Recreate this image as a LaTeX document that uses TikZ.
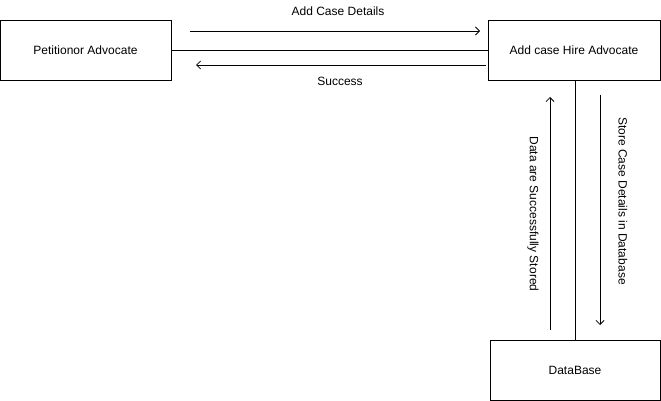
\documentclass[tikz,border=0pt]{standalone}
\usepackage{fontspec}
\setmainfont{Liberation Sans}
\usetikzlibrary{arrows.meta}
\begin{document}
\begin{tikzpicture}[x=1pt,y=-1pt,
  box/.style={draw, line width=0.8pt, minimum width=#1, minimum height=60pt, inner sep=0pt, font=\fontsize{12}{14}\selectfont},
  lbl/.style={font=\fontsize{12}{14}\selectfont, inner sep=0pt},
  conn/.style={line width=0.8pt},
  arr/.style={line width=0.8pt, -{Straight Barb[length=4pt,width=8pt]}}]
\useasboundingbox (0,0) rectangle (661,401);
\node[box=171pt] (pet) at (85.5,50) {Petitionor Advocate};
\node[box=172pt] (hire) at (574,50) {Add case Hire Advocate};
\node[box=170pt] (db) at (575,370) {DataBase};
\draw[conn] (pet.east) -- (hire.west);
\draw[conn] (hire.south -| db.north) -- (db.north);
\coordinate (a1s) at (190,31);
\coordinate (a1e) at (480,31);
\coordinate (a2s) at (486,65);
\coordinate (a2e) at (196,65);
\coordinate (a3s) at (550,330);
\coordinate (a3e) at (550,97);
\coordinate (a4s) at (600,95);
\coordinate (a4e) at (600,325);
\draw[arr] (a1s) -- (a1e);
\draw[arr] (a2s) -- (a2e);
\draw[arr] (a3s) -- (a3e);
\draw[arr] (a4s) -- (a4e);
\node[lbl] (l1) at (338,11) {Add Case Details};
\node[lbl] (l2) at (340,81) {Success};
\node[lbl, rotate=-90] (l3) at (533,214) {Data are Successfully Stored};
\node[lbl, rotate=-90] (l4) at (623,201) {Store Case Details in Database};
\end{tikzpicture}
\end{document}
